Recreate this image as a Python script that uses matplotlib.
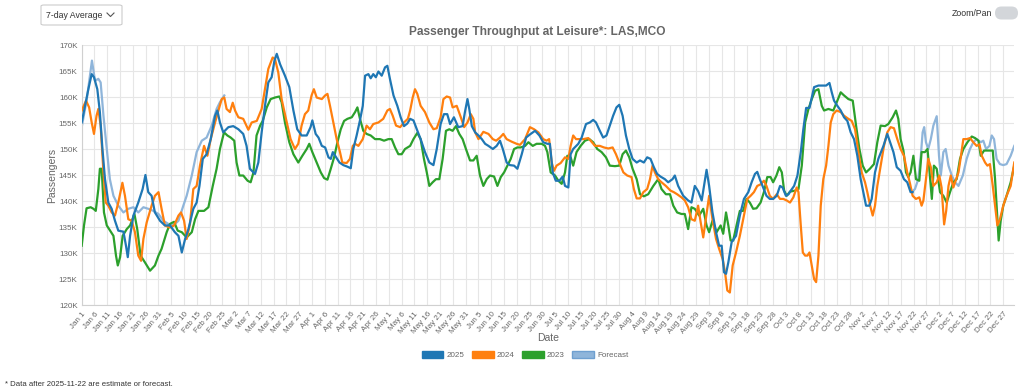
import numpy as np
import pandas as pd
import matplotlib
matplotlib.use("Agg")
import matplotlib.pyplot as plt
from matplotlib.patches import FancyBboxPatch, Patch, Circle
from matplotlib.lines import Line2D

plt.rcParams['font.family'] = ['Liberation Sans', 'DejaVu Sans']

# ---------------- data (day-of-year offset from Jan 1, passengers in thousands) -------------
days_2025 = [0, 1.3, 2.6, 3.9, 4.8, 6.1, 7.1, 8.1, 9.1, 10.4, 11.7, 13.0, 14.3, 16.3, 17.3, 18.0, 18.9,
             20.2, 22.1, 23.8, 24.9, 26.0, 27.3, 28.6, 30.6, 32.5, 34.5, 36.4, 37.8, 39.1, 40.4, 41.7,
             43.6, 44.9, 46.0, 47.3, 48.8, 50.4, 52.1, 53.0, 54.0, 55.3, 57.3, 59.2, 61.2, 63.1, 64.4,
             65.7, 67.7, 69.0, 70.3, 71.6, 72.9, 74.2, 75.3, 76.2, 77.5, 79.4, 81.1, 82.7, 84.2, 85.9,
             87.9, 89.4, 90.1, 91.4, 92.5, 93.8, 95.1, 96.4, 97.3, 98.1, 99.4, 100.7, 102.2, 103.8,
             105.1, 106.1, 107.4, 108.7, 109.8, 110.7, 112.0, 112.9, 113.9, 114.9, 115.9, 117.2, 118.5,
             119.4, 120.4, 121.8, 123.3, 124.6, 125.9, 127.2, 128.3, 129.6, 130.9, 132.4, 134.1, 135.8,
             137.4, 138.7, 140.2, 141.5, 142.8, 143.9, 145.4, 147.1, 148.8, 149.7, 150.7, 151.4, 152.4,
             153.7, 155.0, 156.3, 157.6, 158.9, 160.6, 162.1, 163.4, 164.5, 166.0, 167.3, 168.9, 170.2,
             171.9, 173.6, 175.1, 177.1, 178.8, 180.3, 181.9, 182.9, 184.0, 185.2, 186.6, 187.9, 188.8,
             190.1, 191.0, 192.0, 194.0, 195.3, 197.0, 198.5, 199.8, 200.9, 202.4, 203.7, 205.0, 206.3,
             207.6, 208.9, 210.0, 211.3, 212.6, 213.9, 215.2, 216.8, 218.1, 219.6, 220.9, 222.2, 223.5,
             224.8, 226.1, 227.8, 229.1, 230.8, 231.7, 233.0, 235.0, 236.9, 238.2, 239.5, 240.8, 242.2,
             243.1, 244.1, 245.1, 246.4, 247.8, 249.0, 250.0, 250.9, 251.7, 252.6, 253.9, 255.6, 257.1,
             258.7, 260.4, 261.7, 263.0, 263.9, 264.9, 266.2, 267.5, 268.8, 270.1, 271.5, 272.8, 273.8,
             275.1, 276.1, 277.0, 278.3, 279.6, 280.9, 281.9, 283.0, 284.3, 285.2, 286.1, 287.8, 289.5,
             290.8, 292.1, 293.0, 293.9, 295.2, 296.5, 297.8, 299.1, 300.4, 301.7, 303.0, 304.3, 305.6,
             306.4, 307.7, 308.6, 309.9, 311.2, 313.2, 314.7, 315.8, 317.1, 318.4, 319.9, 321.2, 322.5,
             323.8, 324.6]
vals_2025 = [155.1, 158.3, 161.5, 164.4, 163.8, 161.5, 157.1, 150.0, 144.2, 139.7, 138.5, 136.2, 134.3,
             134.1, 131.4, 129.2, 133.3, 137.2, 139.7, 142.3, 145.0, 141.7, 141.0, 137.8, 136.2, 135.3,
             135.3, 134.0, 133.3, 130.1, 132.7, 134.6, 138.5, 139.7, 142.9, 148.1, 149.0, 151.9, 156.4,
             157.4, 155.1, 153.2, 154.2, 154.4, 153.8, 152.9, 150.6, 146.2, 145.2, 147.4, 153.2, 158.3,
             162.8, 163.8, 167.0, 168.3, 166.3, 164.1, 161.9, 157.4, 153.8, 152.6, 152.6, 154.2, 155.5,
             152.9, 152.2, 150.6, 150.3, 148.4, 148.1, 149.4, 148.4, 147.4, 146.9, 146.6, 146.3, 150.0,
             152.6, 155.5, 158.3, 164.1, 164.4, 163.6, 164.4, 163.8, 164.9, 164.1, 165.7, 166.0, 163.5,
             160.3, 158.3, 156.1, 154.4, 154.9, 155.8, 155.5, 153.8, 151.9, 149.4, 147.4, 146.9, 150.0,
             154.8, 156.7, 156.7, 154.8, 156.1, 154.2, 154.4, 157.1, 159.6, 157.7, 154.4, 153.2, 152.6,
             151.9, 151.0, 150.6, 150.0, 150.6, 151.6, 150.0, 147.4, 146.9, 146.8, 146.2, 149.0, 152.2,
             152.8, 153.5, 152.6, 151.3, 151.0, 151.0, 145.5, 143.9, 143.9, 144.7, 142.9, 142.6, 149.0,
             150.0, 151.0, 152.2, 154.8, 155.1, 155.6, 155.1, 153.5, 152.2, 152.6, 154.5, 156.4, 158.0,
             158.5, 156.4, 152.6, 150.0, 148.1, 147.4, 147.8, 147.4, 148.4, 148.1, 146.5, 145.2, 144.7,
             144.2, 143.6, 144.2, 144.9, 142.9, 141.0, 140.1, 139.7, 142.9, 141.9, 140.1, 142.9, 146.0,
             142.9, 137.8, 134.0, 131.4, 131.4, 126.3, 126.0, 128.2, 132.1, 133.3, 137.2, 140.4, 141.7,
             143.6, 145.2, 145.6, 144.2, 142.6, 141.0, 140.4, 140.4, 141.0, 142.9, 142.6, 141.0, 141.3,
             142.0, 142.9, 144.9, 149.4, 153.8, 157.9, 157.9, 159.9, 161.9, 162.2, 162.2, 162.2, 162.7,
             160.9, 159.3, 158.3, 157.4, 156.1, 155.4, 153.2, 151.9, 148.7, 144.2, 141.0, 139.1, 139.1,
             140.4, 145.5, 148.1, 150.6, 152.9, 151.3, 149.4, 146.5, 145.8, 144.2, 143.6, 141.7, 141.7]

days_2024 = [0, 1.7, 2.9, 3.9, 4.8, 5.8, 6.5, 7.4, 8.5, 9.4, 10.4, 11.7, 13.0, 14.3, 15.9, 16.9, 18.2,
             19.5, 20.8, 22.1, 23.2, 24.1, 25.4, 27.3, 28.6, 30.0, 31.2, 32.5, 34.5, 36.1, 37.8, 38.8,
             40.0, 41.0, 42.3, 43.6, 44.9, 46.2, 47.8, 49.1, 50.4, 52.1, 53.4, 54.7, 55.7, 56.6, 57.9,
             59.0, 59.9, 61.2, 63.1, 65.1, 66.4, 68.4, 70.3, 71.6, 72.9, 74.6, 75.5, 76.8, 78.1, 79.8,
             81.6, 83.3, 84.6, 85.9, 87.2, 88.5, 89.8, 90.7, 91.8, 93.8, 95.1, 96.0, 97.0, 98.3, 99.6,
             100.9, 101.8, 103.5, 104.8, 105.9, 106.8, 108.1, 109.8, 111.3, 112.6, 113.9, 115.9, 117.8,
             119.4, 120.4, 121.5, 122.8, 124.4, 125.9, 127.4, 128.3, 129.3, 130.2, 131.1, 132.4, 134.1,
             135.8, 137.4, 138.7, 140.2, 141.3, 142.6, 143.9, 144.9, 146.5, 148.1, 149.4, 150.7, 152.0,
             153.0, 153.7, 155.0, 156.9, 158.9, 160.6, 161.9, 163.4, 164.7, 166.0, 168.0, 169.9, 171.2,
             173.2, 175.1, 176.7, 178.4, 180.3, 181.6, 182.6, 183.6, 184.5, 185.5, 187.1, 188.8, 190.1,
             191.0, 192.0, 193.1, 194.4, 195.9, 197.9, 198.8, 200.5, 202.4, 204.0, 205.7, 207.4, 208.7,
             210.0, 211.6, 213.1, 214.8, 215.7, 216.8, 218.1, 219.4, 220.9, 222.0, 223.0, 223.9, 225.2,
             226.5, 228.2, 230.0, 231.3, 232.6, 234.3, 235.6, 236.9, 238.2, 239.5, 240.8, 241.8, 242.8,
             243.8, 245.1, 246.4, 247.8, 249.0, 250.4, 251.3, 252.2, 253.2, 254.3, 255.6, 257.1, 258.7,
             260.0, 261.3, 262.6, 263.9, 265.2, 266.5, 267.5, 268.8, 270.1, 271.5, 272.8, 274.1, 275.4,
             276.7, 278.0, 279.3, 280.0, 280.9, 281.7, 282.6, 283.5, 284.3, 285.2, 286.1, 286.9, 287.8,
             288.7, 289.7, 290.8, 291.7, 292.6, 293.6, 294.9, 296.5, 297.8, 299.5, 300.8, 302.1, 303.4,
             304.7, 306.0, 306.9, 308.0, 309.0, 309.9, 310.8, 312.1, 313.4, 314.7, 316.0, 317.3, 318.6,
             319.9, 321.2, 322.5, 323.6, 324.6, 325.9, 327.2, 328.1, 328.8, 329.8, 330.7, 331.7, 332.7,
             334.0, 335.0, 335.9, 336.9, 337.7, 338.6, 339.5, 340.5, 341.6, 342.5, 343.4, 344.4, 345.7,
             347.0, 348.3, 349.6, 350.7, 351.6, 352.9, 353.8, 354.8, 355.9, 356.8, 357.7, 358.7, 360.0,
             361.3, 362.9, 364.3]
vals_2024 = [157.4, 159.3, 158.0, 155.1, 152.9, 156.4, 157.7, 154.5, 145.5, 139.7, 139.1, 137.8, 137.2,
             139.7, 143.5, 141.0, 136.5, 136.2, 134.0, 129.5, 128.5, 132.7, 135.9, 139.1, 141.0, 141.7,
             138.5, 135.3, 134.9, 135.3, 137.2, 137.8, 136.2, 132.7, 135.6, 142.3, 142.9, 146.8, 150.6,
             148.7, 151.9, 155.1, 157.4, 159.6, 159.9, 157.7, 157.1, 158.9, 157.4, 156.1, 155.8, 153.7,
             155.1, 155.4, 157.7, 161.5, 165.4, 167.6, 167.3, 164.7, 159.6, 155.8, 151.9, 150.0, 151.0,
             154.5, 156.7, 157.4, 160.3, 161.5, 159.9, 159.6, 160.3, 160.6, 158.3, 155.1, 151.9, 149.4,
             147.4, 147.3, 148.1, 150.6, 151.0, 150.6, 151.9, 154.5, 153.8, 154.8, 155.1, 155.8, 157.4,
             157.7, 156.4, 154.5, 154.2, 155.1, 155.8, 157.4, 159.9, 161.5, 160.6, 158.3, 157.1, 155.1,
             153.8, 154.0, 156.1, 159.6, 160.1, 159.9, 158.0, 158.3, 156.1, 154.2, 155.1, 156.7, 155.8,
             153.2, 151.9, 153.3, 152.9, 151.9, 151.6, 152.2, 152.9, 151.9, 151.4, 151.0, 150.8, 151.9,
             154.2, 153.8, 153.2, 151.9, 151.6, 151.9, 147.4, 145.8, 146.8, 147.3, 148.4, 148.1, 150.6,
             152.6, 151.9, 151.9, 151.9, 152.1, 151.6, 150.6, 150.6, 150.3, 150.1, 150.3, 149.0, 147.4,
             145.5, 144.9, 144.6, 142.3, 140.5, 140.5, 141.7, 142.3, 144.2, 146.8, 145.5, 144.2, 143.6,
             142.9, 142.0, 141.7, 141.3, 140.7, 140.1, 138.8, 136.5, 136.2, 139.1, 135.9, 133.0, 136.5,
             141.0, 136.5, 132.7, 130.8, 128.8, 126.3, 122.8, 122.4, 127.6, 130.1, 133.3, 137.2, 140.4,
             141.0, 141.7, 142.9, 143.2, 143.9, 142.9, 141.0, 140.4, 141.3, 140.4, 140.4, 140.1, 139.7,
             140.7, 142.6, 141.7, 135.3, 130.1, 129.5, 129.5, 130.1, 127.6, 125.0, 124.4, 129.5, 139.1,
             144.2, 146.8, 150.6, 155.1, 156.7, 157.4, 157.1, 156.4, 155.8, 155.4, 153.8, 149.4, 145.5,
             143.6, 141.7, 139.1, 137.2, 139.1, 142.9, 146.8, 150.6, 153.2, 154.2, 154.0, 151.9, 150.0,
             148.7, 145.5, 143.3, 141.0, 140.4, 140.7, 139.1, 140.1, 144.2, 148.1, 146.5, 142.9, 143.6,
             144.9, 142.6, 135.5, 138.1, 142.9, 144.9, 142.6, 144.2, 145.5, 148.4, 151.9, 151.9, 152.1,
             151.3, 150.6, 150.9, 148.7, 147.4, 146.8, 147.1, 142.9, 139.1, 135.3, 136.5, 139.1, 141.0,
             142.9, 147.4]

days_2023 = [0, 0.9, 1.9, 3.5, 4.6, 5.5, 6.5, 7.1, 7.8, 8.7, 9.8, 11.1, 12.4, 13.4, 14.1, 15.0, 16.0,
             17.6, 18.9, 20.6, 21.7, 23.0, 24.7, 26.7, 28.6, 30.0, 31.2, 33.2, 34.5, 36.1, 37.5, 39.1,
             41.0, 43.0, 44.3, 45.6, 47.8, 49.5, 51.2, 52.7, 54.0, 55.6, 56.9, 58.2, 59.6, 60.5, 61.6,
             63.1, 64.8, 66.0, 67.1, 68.3, 69.7, 70.7, 72.3, 73.8, 75.5, 77.2, 78.1, 79.4, 81.1, 82.7,
             84.6, 86.2, 87.9, 88.9, 90.1, 91.8, 93.4, 94.7, 96.0, 97.3, 98.6, 99.9, 101.2, 102.5, 103.8,
             105.5, 106.8, 107.7, 108.7, 110.0, 111.3, 112.9, 114.6, 116.5, 118.1, 119.8, 121.1, 122.4,
             123.7, 125.0, 126.3, 128.3, 129.6, 131.1, 132.4, 133.7, 134.8, 135.8, 137.1, 138.4, 139.7,
             141.0, 142.3, 143.6, 144.9, 146.2, 147.5, 148.8, 150.1, 151.7, 153.0, 154.3, 155.6, 156.9,
             158.2, 159.5, 161.1, 162.4, 163.7, 165.0, 166.3, 167.6, 168.9, 170.2, 171.5, 173.2, 174.5,
             176.2, 177.7, 179.7, 181.0, 181.9, 183.2, 184.9, 186.2, 187.5, 188.8, 189.7, 191.0, 192.0,
             193.3, 194.9, 196.6, 198.3, 199.8, 201.4, 203.1, 204.8, 206.3, 208.3, 210.0, 211.3, 212.6,
             213.9, 215.2, 216.8, 218.1, 219.6, 221.3, 223.3, 225.2, 226.5, 228.2, 229.8, 231.1, 232.6,
             234.3, 235.6, 236.9, 238.2, 239.5, 241.2, 242.8, 244.1, 245.1, 246.4, 248.0, 249.6, 250.6,
             251.7, 252.6, 253.5, 254.5, 255.8, 257.1, 258.4, 259.7, 261.0, 262.3, 263.6, 265.2, 266.5,
             267.8, 269.1, 270.1, 271.4, 272.5, 273.5, 274.4, 275.4, 276.7, 278.7, 280.0, 281.3, 282.6,
             283.9, 285.2, 286.5, 287.8, 289.1, 290.0, 291.7, 293.6, 295.2, 296.5, 297.8, 299.5, 301.2,
             302.5, 303.8, 305.1, 306.4, 307.9, 309.5, 310.8, 312.1, 313.8, 315.1, 316.8, 318.1, 319.0,
             319.9, 321.0, 322.0, 322.9, 323.8, 324.9, 325.9, 327.2, 328.1, 329.4, 330.4, 331.1, 332.1,
             332.9, 334.0, 335.3, 336.6, 337.9, 339.2, 340.5, 341.8, 343.1, 344.4, 346.0, 347.7, 349.0,
             350.3, 351.2, 352.5, 354.2, 355.9, 356.8, 357.7, 358.2, 359.0, 360.0, 361.3, 362.9, 364.3]
vals_2023 = [131.4, 135.3, 138.6, 138.8, 138.5, 138.1, 142.3, 146.2, 146.2, 137.8, 135.3, 134.3, 133.3,
             129.5, 127.6, 129.2, 133.3, 134.6, 135.3, 137.5, 134.6, 129.5, 128.2, 126.6, 127.6, 129.5,
             130.8, 134.0, 135.6, 136.0, 134.3, 134.0, 133.0, 134.0, 136.5, 138.1, 138.1, 138.8, 142.9,
             146.2, 150.0, 153.2, 152.6, 152.2, 151.6, 147.4, 144.9, 144.9, 143.9, 143.6, 145.5, 152.6,
             154.5, 155.4, 158.0, 159.6, 159.9, 160.1, 159.0, 155.1, 151.3, 149.0, 147.4, 148.7, 150.0,
             151.0, 149.4, 147.4, 145.5, 144.4, 144.1, 146.2, 148.4, 151.3, 153.8, 155.4, 155.8, 156.1,
             157.1, 158.0, 155.8, 153.5, 152.9, 152.6, 151.9, 151.9, 151.6, 151.9, 151.9, 150.3, 149.0,
             149.0, 150.0, 150.6, 151.9, 153.1, 151.9, 148.1, 145.5, 142.9, 143.6, 144.2, 144.2, 148.1,
             153.5, 153.8, 153.5, 154.4, 152.9, 151.9, 150.0, 147.8, 147.8, 148.7, 144.9, 142.9, 144.2,
             144.9, 144.7, 142.9, 144.6, 145.5, 146.8, 148.1, 150.0, 150.3, 150.3, 150.6, 151.3, 150.6,
             151.0, 151.0, 150.6, 149.4, 145.5, 144.9, 143.9, 143.3, 145.5, 148.7, 148.4, 146.8, 149.4,
             150.6, 151.6, 151.9, 151.3, 150.0, 149.4, 148.4, 146.8, 146.7, 146.8, 149.0, 149.7, 148.4,
             146.2, 144.2, 141.3, 140.9, 141.3, 142.9, 144.2, 142.3, 141.3, 141.3, 139.1, 137.8, 137.5,
             137.5, 134.6, 138.8, 138.5, 137.2, 138.5, 135.3, 134.0, 136.2, 134.0, 135.3, 133.7, 137.8,
             135.3, 132.4, 132.4, 135.3, 138.1, 138.1, 140.4, 139.7, 138.5, 138.6, 139.7, 141.7, 144.6,
             144.6, 143.6, 144.9, 146.5, 145.5, 142.0, 141.0, 141.8, 142.0, 142.3, 146.8, 155.1, 157.7,
             159.6, 161.2, 161.5, 158.3, 157.4, 157.7, 157.4, 159.3, 160.9, 160.3, 159.6, 159.3, 154.5,
             150.0, 146.8, 145.5, 146.2, 147.1, 151.3, 154.5, 154.4, 154.8, 156.1, 157.4, 155.8, 151.9,
             149.7, 145.5, 144.6, 145.5, 148.7, 144.2, 143.9, 149.4, 149.4, 150.0, 146.2, 140.4, 146.8,
             146.2, 141.7, 141.0, 139.7, 141.7, 143.6, 144.2, 148.1, 150.0, 151.3, 152.4, 152.1, 151.6,
             148.7, 149.7, 149.7, 149.7, 144.2, 136.5, 132.4, 136.2, 139.1, 141.0, 143.6, 146.8]

days_fc_jan = [0, 2.0, 4.0, 5.2, 6.5, 7.4, 8.5, 9.8, 11.0, 12.4, 14.3, 16.3, 18.2, 20.2, 22.1, 24.1, 26.0,
               28.0, 30.0, 31.9, 33.8, 35.8, 37.8, 39.7, 41.0, 43.0, 44.9, 46.9, 48.8, 50.8, 52.7, 54.0,
               55.7]
vals_fc_jan = [154.2, 159.6, 167.0, 163.1, 163.5, 162.8, 156.4, 150.0, 144.2, 141.0, 139.1, 137.8, 138.5,
               138.8, 137.8, 138.8, 138.5, 138.1, 137.5, 136.2, 135.6, 135.3, 136.2, 139.1, 141.0, 144.9,
               149.4, 151.6, 152.2, 154.5, 157.7, 159.0, 160.3]
days_fc_dec = [324.2, 325.5, 326.8, 327.8, 328.5, 329.1, 329.8, 330.7, 331.7, 332.7, 334.0, 334.9, 335.6,
               336.6, 337.5, 338.6, 339.9, 341.2, 342.5, 344.2, 345.7, 347.0, 348.3, 349.6, 351.2, 352.2,
               353.3, 354.6, 355.5, 356.4, 357.4, 358.7, 360.0, 361.3, 362.9, 364.3]
vals_fc_dec = [141.7, 142.3, 144.2, 148.7, 153.2, 154.2, 151.3, 150.0, 151.9, 154.5, 156.3, 148.7, 144.9,
               149.4, 150.0, 146.8, 144.9, 143.6, 142.9, 144.9, 148.1, 150.0, 151.3, 151.9, 151.3, 151.6,
               150.0, 150.6, 152.6, 151.9, 148.1, 147.1, 146.9, 147.1, 148.7, 150.6]

series_names = ["2025", "2024", "2023", "Forecast"]
series_colors = ["#1f77b4", "#ff7f0e", "#2ca02c", "#8fb5da"]
y_ticks = [120, 125, 130, 135, 140, 145, 150, 155, 160, 165, 170]
tick_days = list(range(0, 361, 5))
tick_labels = [d.strftime("%b ") + str(d.day) for d in pd.Timestamp("2025-01-01") + pd.to_timedelta(tick_days, unit="D")]

# ---------------- figure ----------------
W, H = 1024, 392
fig = plt.figure(figsize=(W / 100, H / 100), dpi=100)
def fx(px): return px / W
def fy(py): return 1 - py / H

ax = fig.add_axes([fx(81.7), fy(305), fx(1013.5) - fx(81.7), fy(45) - fy(305)])

grid_c = "#e6e6e6"
ax.set_xlim(0, 364)
ax.set_ylim(120, 170)
ax.set_yticks(y_ticks)
ax.set_yticklabels([f"{v}K" for v in y_ticks])
ax.set_xticks(tick_days)
ax.set_xticklabels(tick_labels, rotation=50, ha="right", rotation_mode="anchor")
ax.grid(True, color=grid_c, linewidth=0.8)
ax.set_axisbelow(True)
for s in ["top", "right"]:
    ax.spines[s].set_visible(False)
ax.spines["left"].set_color("#d0d0d0")
ax.spines["bottom"].set_color("#d0d0d0")
ax.tick_params(axis="both", colors="#666666", labelsize=5.8, length=0, pad=3)
ax.tick_params(axis="x", pad=4)

lw = 1.6
ax.plot(days_fc_jan, vals_fc_jan, color=series_colors[3], lw=lw, zorder=2)
ax.plot(days_fc_dec, vals_fc_dec, color=series_colors[3], lw=lw, zorder=2)
ax.plot(days_2023, vals_2023, color=series_colors[2], lw=lw, zorder=3)
ax.plot(days_2024, vals_2024, color=series_colors[1], lw=lw, zorder=4)
ax.plot(days_2025, vals_2025, color=series_colors[0], lw=lw, zorder=5)

fig.text(fx(537), fy(32), "Passenger Throughput at Leisure*: LAS,MCO", fontsize=8.6, fontweight="bold",
         color="#666666", ha="center", va="center")
fig.text(fx(52), fy(175), "Passengers", fontsize=7.5, color="#666666", ha="center", va="center",
         rotation=90)
fig.text(fx(548), fy(338), "Date", fontsize=7.5, color="#666666", ha="center", va="center")

# legend
handles = [Patch(facecolor=c, edgecolor=("#6fa0d0" if n == "Forecast" else c), linewidth=1.0)
           for n, c in zip(series_names, series_colors)]
fig.legend(handles, series_names, loc="center", bbox_to_anchor=(fx(525), fy(355)), ncol=4, frameon=False,
           fontsize=5.8, handlelength=2.7, handleheight=0.9, columnspacing=0.9, handletextpad=0.4,
           labelcolor="#666666")

# dropdown
fig.patches.append(FancyBboxPatch((fx(41), fy(25)), fx(122) - fx(41), fy(5) - fy(25),
                                  boxstyle="round,pad=0,rounding_size=0.003", transform=fig.transFigure,
                                  facecolor="white", edgecolor="#cccccc", linewidth=0.8))
fig.text(fx(46), fy(15), "7-day Average", fontsize=6.3, color="#333333", ha="left", va="center")
fig.add_artist(Line2D([fx(107), fx(110.5), fx(114)], [fy(13), fy(16.5), fy(13)], transform=fig.transFigure,
                      color="#555555", lw=0.8))

# zoom/pan toggle
fig.text(fx(992), fy(13), "Zoom/Pan", fontsize=6.3, color="#333333", ha="right", va="center")
fig.patches.append(FancyBboxPatch((fx(995), fy(19.5)), fx(1018) - fx(995), fy(6.5) - fy(19.5),
                                  boxstyle="round,pad=0,rounding_size=0.0063", transform=fig.transFigure,
                                  facecolor="#d3d6da", edgecolor="none", mutation_aspect=W / H))
fig.add_artist(Circle((fx(1001.5), fy(13)), radius=fx(5), transform=fig.transFigure,
                      facecolor="white", edgecolor="none"))

# footnote
fig.text(fx(5), fy(384), "* Data after 2025-11-22 are estimate or forecast.", fontsize=5.6,
         color="#333333", ha="left", va="center")

fig.savefig("out.png", dpi=100, facecolor="white")
